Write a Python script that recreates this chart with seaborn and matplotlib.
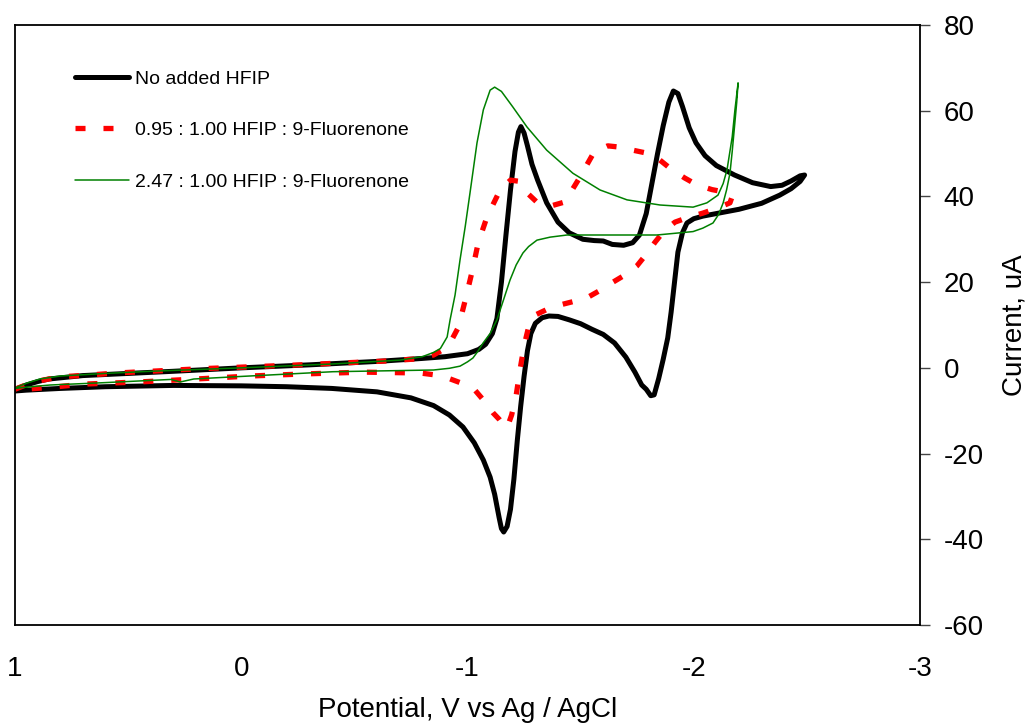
import pandas as pd
import seaborn as sns
import matplotlib.pyplot as plt

# Potential (V vs Ag/AgCl) and current (uA)
v_none = [1.00, 0.95, 0.90, 0.85, 0.70, 0.50, 0.30, 0.00, -0.30, -0.60, -0.80, -0.90, -1.00, -1.05,
          -1.08, -1.11, -1.13, -1.15, -1.17, -1.19, -1.21, -1.225, -1.236, -1.25, -1.265, -1.285,
          -1.31, -1.35, -1.40, -1.45, -1.51, -1.56, -1.60, -1.64, -1.69, -1.73, -1.76, -1.79,
          -1.815, -1.84, -1.865, -1.89, -1.91, -1.93, -1.95, -1.98, -2.01, -2.05, -2.10, -2.18,
          -2.26, -2.34, -2.39, -2.43, -2.47, -2.49,
          -2.47, -2.43, -2.38, -2.30, -2.20, -2.10, -2.04, -2.00, -1.97, -1.95, -1.93, -1.915,
          -1.90, -1.885, -1.865, -1.845, -1.825, -1.81, -1.79, -1.77, -1.74, -1.70, -1.65, -1.60,
          -1.55, -1.50, -1.45, -1.40, -1.36, -1.33, -1.30, -1.28, -1.265, -1.25, -1.235, -1.22,
          -1.205, -1.19, -1.175, -1.16, -1.15, -1.14, -1.12, -1.10, -1.07, -1.03, -0.98, -0.92,
          -0.85, -0.75, -0.60, -0.40, -0.20, 0.00, 0.30, 0.60, 0.80, 0.95, 1.00]
i_none = [-5.0, -4.0, -3.2, -2.6, -1.8, -1.3, -0.8, 0.0, 0.7, 1.5, 2.2, 2.6, 3.3, 4.3,
          5.5, 8.0, 11.5, 20.0, 31.0, 41.5, 50.5, 55.0, 56.3, 54.8, 51.8, 47.5,
          43.8, 38.5, 34.0, 31.5, 30.0, 29.7, 29.6, 28.8, 28.6, 29.2, 31.0, 36.0,
          43.0, 50.0, 56.5, 62.0, 64.6, 64.0, 61.0, 56.0, 52.5, 49.5, 47.2, 45.0,
          43.2, 42.3, 42.6, 43.6, 44.8, 45.0,
          43.5, 41.8, 40.3, 38.4, 37.0, 36.0, 35.4, 34.8, 33.8, 31.5, 27.0, 20.0,
          13.0, 7.0, 2.0, -2.5, -6.3, -6.5, -5.0, -4.0, -1.0, 2.5, 5.8, 7.8,
          9.0, 10.3, 11.2, 12.0, 12.1, 11.7, 10.4, 8.0, 4.0, -2.0, -9.0, -17.0,
          -26.0, -33.0, -37.0, -38.3, -37.5, -35.0, -29.5, -25.5, -21.5, -17.5, -13.8, -11.0,
          -8.8, -7.0, -5.6, -4.8, -4.4, -4.2, -4.1, -4.4, -4.8, -5.2, -5.4]

v_095 = [1.00, 0.92, 0.80, 0.68, 0.55, 0.18, -0.26, -0.64, -0.78, -0.85, -0.89, -0.93, -0.96,
         -0.99, -1.02, -1.047, -1.086, -1.144, -1.19, -1.232, -1.27, -1.31, -1.37, -1.43, -1.497,
         -1.56, -1.62, -1.674, -1.73, -1.793, -1.85, -1.904, -1.96, -2.014, -2.08, -2.138, -2.17,
         -2.16, -2.10, -2.04, -1.98, -1.917, -1.87, -1.83, -1.79, -1.749, -1.70, -1.643, -1.59,
         -1.533, -1.47, -1.41, -1.35, -1.298, -1.27, -1.254, -1.24, -1.232, -1.214, -1.195,
         -1.175, -1.16, -1.14, -1.113, -1.07, -1.033, -0.97, -0.914, -0.85, -0.79, -0.54, -0.29,
         -0.04, 0.20, 0.456, 0.70, 0.83, 0.956, 1.00]
i_095 = [-5.0, -3.3, -2.1, -1.7, -1.2, -0.2, 0.7, 1.6, 2.1, 3.0, 4.2, 6.5, 9.5,
         15.8, 22.4, 29.1, 35.2, 41.5, 43.8, 43.5, 40.5, 38.5, 37.8, 38.7, 44.5,
         50.4, 51.8, 51.5, 50.8, 50.1, 48.5, 46.2, 44.3, 42.7, 41.6, 41.0, 40.0,
         38.5, 37.2, 36.1, 35.2, 34.0, 32.0, 29.4, 26.5, 23.8, 21.8, 20.0, 18.2,
         16.5, 15.5, 14.7, 13.6, 12.3, 9.5, 6.0, 2.0, -0.5, -6.8, -11.0,
         -14.0, -13.5, -12.0, -10.5, -7.5, -5.2, -3.5, -2.4, -1.6, -1.2, -1.0, -1.4,
         -1.9, -2.6, -3.3, -3.8, -4.5, -5.0, -5.3]

v_247 = [1.00, 0.95, 0.89, 0.80, 0.60, 0.40, 0.00, -0.40, -0.70, -0.80, -0.85, -0.88, -0.91,
         -0.923, -0.945, -0.967, -0.99, -1.011, -1.042, -1.07, -1.10, -1.12, -1.15, -1.20,
         -1.263, -1.35, -1.466, -1.586, -1.705, -1.851, -1.997, -2.058, -2.107, -2.13, -2.147,
         -2.17, -2.182, -2.196,
         -2.19, -2.18, -2.17, -2.16, -2.145, -2.13, -2.11, -2.085, -2.04, -1.997, -1.837, -1.617,
         -1.44, -1.365, -1.307, -1.27, -1.245, -1.215, -1.188, -1.16, -1.13, -1.10, -1.069,
         -1.045, -1.024, -1.00, -0.967, -0.92, -0.85, -0.405, 0.036, 0.21, 0.27, 0.31, 0.624,
         0.845, 0.95, 1.00]
i_247 = [-4.7, -3.6, -2.6, -1.9, -1.3, -0.8, 0.0, 0.9, 1.8, 2.6, 3.6, 4.5, 7.2,
         11.2, 17.0, 25.2, 33.0, 40.8, 52.5, 60.2, 64.8, 65.5, 64.5, 60.9,
         56.2, 50.8, 45.4, 41.5, 39.2, 38.0, 37.5, 38.5, 40.3, 43.0, 46.2,
         53.9, 60.2, 66.5,
         62.0, 56.2, 50.5, 45.4, 41.5, 38.5, 35.8, 33.8, 32.6, 31.8, 31.0, 31.0,
         31.0, 30.5, 29.8, 28.3, 26.8, 24.0, 20.5, 16.0, 11.2, 8.0, 5.8,
         3.8, 2.3, 1.4, 0.4, -0.1, -0.5, -0.9, -2.1, -2.6, -3.3, -2.7, -3.5,
         -4.0, -4.5, -4.8]

labels = ['No added HFIP', '0.95 : 1.00 HFIP : 9-Fluorenone', '2.47 : 1.00 HFIP : 9-Fluorenone']
x_ticks = [1, 0, -1, -2, -3]
y_ticks = [-60, -40, -20, 0, 20, 40, 60, 80]

sns.set_style('white')
plt.rcParams['font.family'] = ['Liberation Sans', 'DejaVu Sans']
plt.rcParams['font.size'] = 20
plt.rcParams['axes.unicode_minus'] = False
plt.rcParams['text.color'] = 'black'
plt.rcParams['axes.labelcolor'] = 'black'
plt.rcParams['xtick.color'] = 'black'
plt.rcParams['ytick.color'] = 'black'

fig = plt.figure(figsize=(10.26, 7.23), dpi=100)
ax = fig.add_axes([15 / 1026, 1 - 625 / 723, 905 / 1026, 600 / 723])

styles = [dict(color='black', linewidth=3.6),
          dict(color='red', linewidth=3.8, linestyle=(0, (1.9, 3.4))),
          dict(color='green', linewidth=1.1)]
for lab, v, cur, st in zip(labels, [v_none, v_095, v_247], [i_none, i_095, i_247], styles):
    df = pd.DataFrame({'V': v, 'I': cur})
    sns.lineplot(data=df, x='V', y='I', sort=False, estimator=None, ax=ax, label=lab, **st)

ax.set_xlim(1, -3)
ax.set_ylim(-60, 80)
ax.set_xticks(x_ticks)
ax.set_xticklabels([str(t) for t in x_ticks])
ax.set_yticks(y_ticks)
ax.yaxis.tick_right()
ax.yaxis.set_label_position('right')
ax.tick_params(axis='both', direction='out', length=7, width=1, color='#444444',
               labelcolor='black', labelsize=20)
ax.tick_params(axis='x', pad=15)
ax.tick_params(axis='y', pad=10)
ax.set_xlabel('Potential, V vs Ag / AgCl', fontsize=20, labelpad=11, color='black')
ax.set_ylabel('Current, uA', fontsize=20, labelpad=13, color='black')

for spine in ax.spines.values():
    spine.set_visible(True)
    spine.set_color('black')
    spine.set_linewidth(1.3)

leg = ax.legend(loc='upper left', bbox_to_anchor=(0.066, 0.925), frameon=False, fontsize=14,
                handlelength=2.8, handletextpad=0.3, labelspacing=1.75, borderpad=0, borderaxespad=0)
for t in leg.get_texts():
    t.set_color('black')

plt.savefig('out.png', dpi=100)
